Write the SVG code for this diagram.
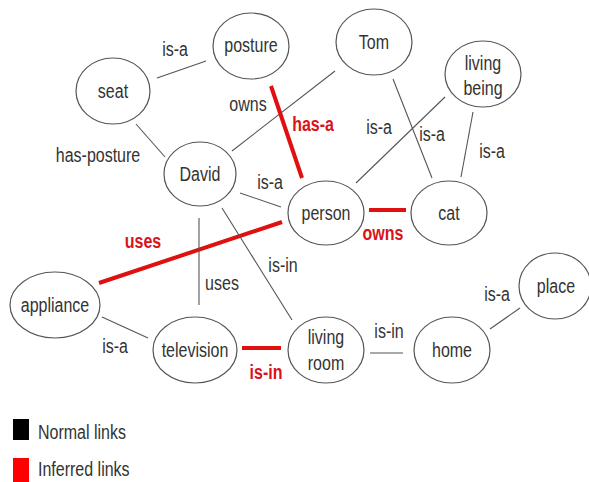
<svg xmlns="http://www.w3.org/2000/svg" width="589" height="482" viewBox="0 0 589 482">
<style>
.n ellipse{fill:#fff;stroke:#555;stroke-width:1.2}
text{font-family:"Liberation Sans",Arial,sans-serif;font-size:20px;fill:#333;transform-box:fill-box;transform:scale(0.8,1)}
.c{text-anchor:middle;transform-origin:center}
.l{transform-origin:left}
.e line{stroke:#555;stroke-width:1.1}
.e line.r{stroke:#e01010;stroke-width:4}
.rl{fill:#d8141a;font-weight:bold}
</style>
<rect width="589" height="482" fill="#fff"/>
<g id="edges" class="e">
<line x1="157" y1="78" x2="206" y2="61"/>
<line x1="136" y1="124" x2="165" y2="157"/>
<line x1="232" y1="151" x2="335" y2="71"/>
<line class="r" x1="271" y1="86" x2="302" y2="178"/>
<line x1="240" y1="193" x2="281" y2="207"/>
<line x1="445" y1="97" x2="356" y2="183"/>
<line x1="393" y1="79" x2="432" y2="178"/>
<line x1="473" y1="112" x2="461" y2="177"/>
<line class="r" x1="369" y1="210" x2="406" y2="210"/>
<line class="r" x1="99" y1="283" x2="282" y2="222"/>
<line x1="199" y1="218" x2="199" y2="305"/>
<line x1="222" y1="208" x2="292" y2="320"/>
<line x1="102" y1="317" x2="148" y2="338"/>
<line class="r" x1="242" y1="348" x2="281" y2="348"/>
<line x1="370" y1="353" x2="403" y2="353"/>
<line x1="490" y1="329" x2="520" y2="308"/>
</g>
<g id="edge-labels">
<text x="175" y="56" class="c">is-a</text>
<text x="98" y="162" class="c">has-posture</text>
<text x="248" y="111" class="c">owns</text>
<text x="313" y="131" class="c rl">has-a</text>
<text x="270" y="189" class="c">is-a</text>
<text x="379" y="134" class="c">is-a</text>
<text x="432" y="141" class="c">is-a</text>
<text x="492" y="158" class="c">is-a</text>
<text x="383" y="240" class="c rl">owns</text>
<text x="143" y="248" class="c rl">uses</text>
<text x="222" y="290" class="c">uses</text>
<text x="283" y="272" class="c">is-in</text>
<text x="115" y="353" class="c">is-a</text>
<text x="266" y="379" class="c rl">is-in</text>
<text x="389" y="338" class="c">is-in</text>
<text x="497" y="301" class="c">is-a</text>
</g>
<g id="posture" class="n"><ellipse cx="251" cy="46" rx="38" ry="33"/><text x="251" y="52" class="c">posture</text></g>
<g id="seat" class="n"><ellipse cx="113" cy="91" rx="37" ry="33"/><text x="113" y="98" class="c">seat</text></g>
<g id="David" class="n"><ellipse cx="200" cy="174" rx="36" ry="32"/><text x="200" y="181" class="c">David</text></g>
<g id="Tom" class="n"><ellipse cx="374" cy="42" rx="38" ry="33"/><text x="374" y="49" class="c">Tom</text></g>
<g id="living-being" class="n"><ellipse cx="483" cy="74" rx="38" ry="33"/><text x="483" y="70" class="c">living</text><text x="483" y="95" class="c">being</text></g>
<g id="person" class="n"><ellipse cx="326" cy="213" rx="38" ry="32"/><text x="326" y="220" class="c">person</text></g>
<g id="cat" class="n"><ellipse cx="449" cy="213" rx="38" ry="32"/><text x="449" y="220" class="c">cat</text></g>
<g id="appliance" class="n"><ellipse cx="55" cy="305" rx="45" ry="33"/><text x="55" y="312" class="c">appliance</text></g>
<g id="television" class="n"><ellipse cx="195" cy="350" rx="42" ry="33"/><text x="195" y="357" class="c">television</text></g>
<g id="living-room" class="n"><ellipse cx="326" cy="350" rx="38" ry="33"/><text x="326" y="344" class="c">living</text><text x="326" y="370" class="c">room</text></g>
<g id="home" class="n"><ellipse cx="452" cy="350" rx="38" ry="33"/><text x="452" y="357" class="c">home</text></g>
<g id="place" class="n"><ellipse cx="555" cy="286" rx="36" ry="33"/><text x="556" y="293" class="c">place</text></g>
<g id="legend">
<rect x="13" y="419" width="16" height="21" fill="#000"/>
<text x="38" y="439" class="l">Normal links</text>
<rect x="13" y="458" width="16" height="24" fill="#f00"/>
<text x="38" y="476" class="l">Inferred links</text>
</g>
</svg>
